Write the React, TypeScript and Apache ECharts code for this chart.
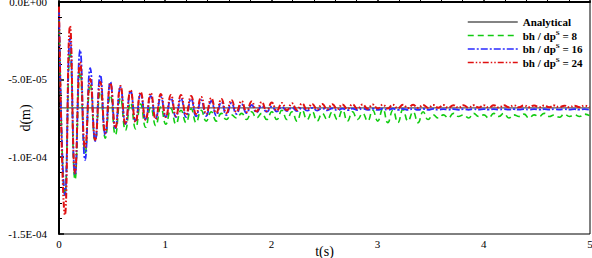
import React, { useEffect, useRef } from "react";
import * as echarts from "echarts";

// time of each extreme (s)
const tExt = [
  0, 0.056, 0.104, 0.151, 0.199, 0.246, 0.294, 0.341, 0.389, 0.436,
  0.484, 0.531, 0.579, 0.626, 0.674, 0.721, 0.769, 0.816, 0.864, 0.911,
  0.959, 1.006, 1.054, 1.101, 1.149, 1.196, 1.244, 1.291, 1.339, 1.386,
  1.434, 1.481, 1.529, 1.576, 1.624, 1.671, 1.719, 1.766, 1.814, 1.861,
  1.909, 1.956, 2.004, 2.051, 2.099, 2.146, 2.194, 2.241, 2.289, 2.336,
  2.384, 2.431, 2.479, 2.526, 2.574, 2.621, 2.669, 2.716, 2.764, 2.811,
  2.859, 2.906, 2.954, 3.001, 3.049, 3.096, 3.144, 3.191, 3.239, 3.286,
  3.334, 3.381, 3.429, 3.476, 3.524, 3.571, 3.619, 3.666, 3.714, 3.761,
  3.809, 3.856, 3.904, 3.951, 3.999, 4.046, 4.094, 4.141, 4.189, 4.236,
  4.284, 4.331, 4.379, 4.426, 4.474, 4.521, 4.569, 4.616, 4.664, 4.711,
  4.759, 4.806, 4.854, 4.901, 4.949, 4.996,
];

// displacement values in units of 1E-05 m
const analytical = -6.85;

const bh8 = [
  -0.5, -12.5, -3.2, -11.5, -4.5, -9.8, -5.3, -9.0, -5.8, -8.8,
  -6.0, -8.6, -6.2, -8.3, -6.5, -8.2, -6.6, -8.1, -6.8, -8.0,
  -6.8, -7.9, -6.9, -7.9, -7.0, -7.8, -6.9, -7.8, -7.0, -7.7,
  -7.1, -7.7, -7.2, -7.6, -7.3, -7.5, -7.2, -7.6, -7.1, -7.5,
  -7.2, -7.6, -7.1, -7.6, -7.0, -7.6, -7.1, -7.7, -7.0, -7.6,
  -7.1, -7.7, -7.2, -7.6, -7.1, -7.6, -7.0, -7.7, -7.1, -7.6,
  -7.2, -7.7, -7.0, -7.7, -6.9, -7.8, -7.0, -7.8, -6.95, -7.7,
  -7.1, -7.8, -7.1, -7.6, -7.3, -7.5, -7.3, -7.5, -7.2, -7.4,
  -7.3, -7.5, -7.2, -7.4, -7.3, -7.5, -7.2, -7.4, -7.2, -7.5,
  -7.3, -7.4, -7.25, -7.5, -7.3, -7.4, -7.2, -7.4, -7.3, -7.45,
  -7.25, -7.4, -7.3, -7.4, -7.25, -7.35,
];

const bh16 = [
  -0.52, -12.48, -2.33, -11.19, -3.1, -10.22, -4.27, -8.99, -4.72, -8.6,
  -5.17, -8.15, -5.5, -7.89, -5.75, -7.69, -5.95, -7.57, -6.08, -7.5,
  -6.14, -7.44, -6.21, -7.44, -6.24, -7.44, -6.27, -7.4, -6.34, -7.37,
  -6.4, -7.34, -6.47, -7.31, -6.53, -7.24, -6.6, -7.18, -6.66, -7.14,
  -6.72, -7.11, -6.76, -7.08, -6.79, -7.05, -6.82, -7.05, -6.85, -7.02,
  -6.85, -7.02, -6.87, -7.0, -6.88, -7.0, -6.89, -6.99, -6.89, -6.99,
  -6.89, -6.98, -6.9, -6.98, -6.9, -6.98, -6.9, -6.98, -6.91, -6.97,
  -6.91, -6.97, -6.91, -6.97, -6.91, -6.97, -6.92, -6.97, -6.92, -6.97,
  -6.92, -6.97, -6.92, -6.96, -6.92, -6.96, -6.92, -6.96, -6.92, -6.96,
  -6.93, -6.96, -6.93, -6.96, -6.93, -6.96, -6.93, -6.96, -6.93, -6.96,
  -6.93, -6.96, -6.93, -6.96, -6.93, -6.96,
];

const bh24 = [
  -0.3, -13.77, -1.55, -11.06, -3.88, -9.44, -4.98, -8.92, -5.17, -8.47,
  -5.24, -8.15, -5.43, -7.89, -5.69, -7.76, -5.82, -7.63, -5.88, -7.57,
  -5.95, -7.44, -6.01, -7.37, -6.01, -7.31, -6.08, -7.24, -6.14, -7.24,
  -6.21, -7.18, -6.27, -7.18, -6.34, -7.11, -6.4, -7.11, -6.43, -7.08,
  -6.47, -7.05, -6.5, -7.03, -6.53, -7.0, -6.55, -6.98, -6.57, -6.96,
  -6.59, -6.95, -6.6, -6.94, -6.61, -6.93, -6.62, -6.92, -6.62, -6.91,
  -6.63, -6.9, -6.63, -6.89, -6.64, -6.88, -6.64, -6.87, -6.65, -6.86,
  -6.65, -6.85, -6.66, -6.85, -6.66, -6.84, -6.66, -6.84, -6.67, -6.83,
  -6.67, -6.83, -6.67, -6.82, -6.68, -6.82, -6.68, -6.82, -6.68, -6.81,
  -6.68, -6.81, -6.69, -6.81, -6.69, -6.8, -6.69, -6.8, -6.69, -6.8,
  -6.7, -6.8, -6.7, -6.8, -6.7, -6.8,
];

const seriesNames = ["Analytical", "bh / dpS = 8", "bh / dpS = 16", "bh / dpS = 24"];
const legendLabels: Record<string, string> = {
  "Analytical": "Analytical",
  "bh / dpS = 8": "bh / dp{sup|S} = 8",
  "bh / dpS = 16": "bh / dp{sup|S} = 16",
  "bh / dpS = 24": "bh / dp{sup|S} = 24",
};
const yTickLabels: Record<string, string> = {
  "0": "0.0E+00",
  "-5": "-5.0E-05",
  "-10": "-1.0E-04",
  "-15": "-1.5E-04",
};

const SERIF = "'Liberation Serif', 'Times New Roman', serif";

export default function App() {
  const ref = useRef<HTMLDivElement>(null);
  useEffect(() => {
    if (!ref.current) return;
    const chart = echarts.init(ref.current, null, { renderer: "svg" });
    const pts = (vals: number[]) => tExt.map((t, i) => [t, vals[i]]);
    chart.setOption({
      animation: false,
      grid: {
        left: 59, right: 2, top: 2, bottom: 24,
        containLabel: false, outerBoundsMode: "none",
        show: true, borderColor: "#000", borderWidth: 1,
      },
      legend: {
        orient: "vertical",
        left: 462,
        top: 11,
        itemWidth: 50,
        itemHeight: 8,
        itemGap: 1,
        itemTextGap: 8,
        data: seriesNames,
        itemStyle: { opacity: 0 },
        lineStyle: { width: 1.5 },
        formatter: (n: string) => legendLabels[n] || n,
        textStyle: {
          fontFamily: SERIF, fontWeight: "bold", fontSize: 11, color: "#000",
          lineHeight: 12,
          rich: {
            sup: { fontFamily: SERIF, fontWeight: "bold", fontSize: 7, color: "#000", padding: [0, 0, 6, 0] },
          },
        },
      },
      xAxis: {
        type: "value", min: 0, max: 5, interval: 1,
        name: "t(s)", nameLocation: "middle", nameGap: 10, nameMoveOverlap: false,
        nameTextStyle: { fontFamily: SERIF, fontSize: 14, color: "#000" },
        axisLine: { show: true, lineStyle: { color: "#000", width: 2 } },
        axisTick: { show: true, inside: true, length: 5, lineStyle: { color: "#000", width: 1.5 } },
        minorTick: { show: true, splitNumber: 5, length: 3, lineStyle: { color: "#000", width: 1 } },
        axisLabel: { fontFamily: SERIF, fontSize: 11, color: "#000", margin: 4 },
        splitLine: { show: false },
      },
      yAxis: {
        type: "value", min: -15, max: 0, interval: 5,
        name: "d(m)", nameLocation: "middle", nameGap: 27, nameRotate: 90, nameMoveOverlap: false,
        nameTextStyle: { fontFamily: SERIF, fontSize: 14, color: "#000" },
        axisLine: { show: true, lineStyle: { color: "#000", width: 2 } },
        axisTick: { show: true, inside: true, length: 5, lineStyle: { color: "#000", width: 1.5 } },
        minorTick: { show: true, splitNumber: 5, length: 3, lineStyle: { color: "#000", width: 1 } },
        axisLabel: {
          fontFamily: SERIF, fontSize: 11, color: "#000", margin: 12,
          formatter: (v: number) => yTickLabels[String(v)] ?? String(v),
        },
        splitLine: { show: false },
      },
      series: [
        {
          name: seriesNames[0], type: "line", symbol: "none",
          data: [[0, analytical], [5, analytical]],
          lineStyle: { color: "#5a5a5a", width: 1.2, type: "solid" },
          itemStyle: { color: "#5a5a5a" },
        },
        {
          name: seriesNames[1], type: "line", symbol: "none", smooth: 0.5,
          data: pts(bh8),
          lineStyle: { color: "#11cc11", width: 1.6, type: [6, 4] },
          itemStyle: { color: "#11cc11" },
        },
        {
          name: seriesNames[2], type: "line", symbol: "none", smooth: 0.5,
          data: pts(bh16),
          lineStyle: { color: "#2a2aff", width: 1.8, type: [7, 2, 2, 2] },
          itemStyle: { color: "#2a2aff" },
        },
        {
          name: seriesNames[3], type: "line", symbol: "none", smooth: 0.5,
          data: pts(bh24),
          lineStyle: { color: "#e01010", width: 2, type: [6, 2, 1.5, 2, 1.5, 2] },
          itemStyle: { color: "#e01010" },
        },
      ],
    });
    return () => chart.dispose();
  }, []);
  return (
    <div
      ref={ref}
      style={{ position: "absolute", left: 0, top: 0, width: 592, height: 258, background: "#fff" }}
    />
  );
}
